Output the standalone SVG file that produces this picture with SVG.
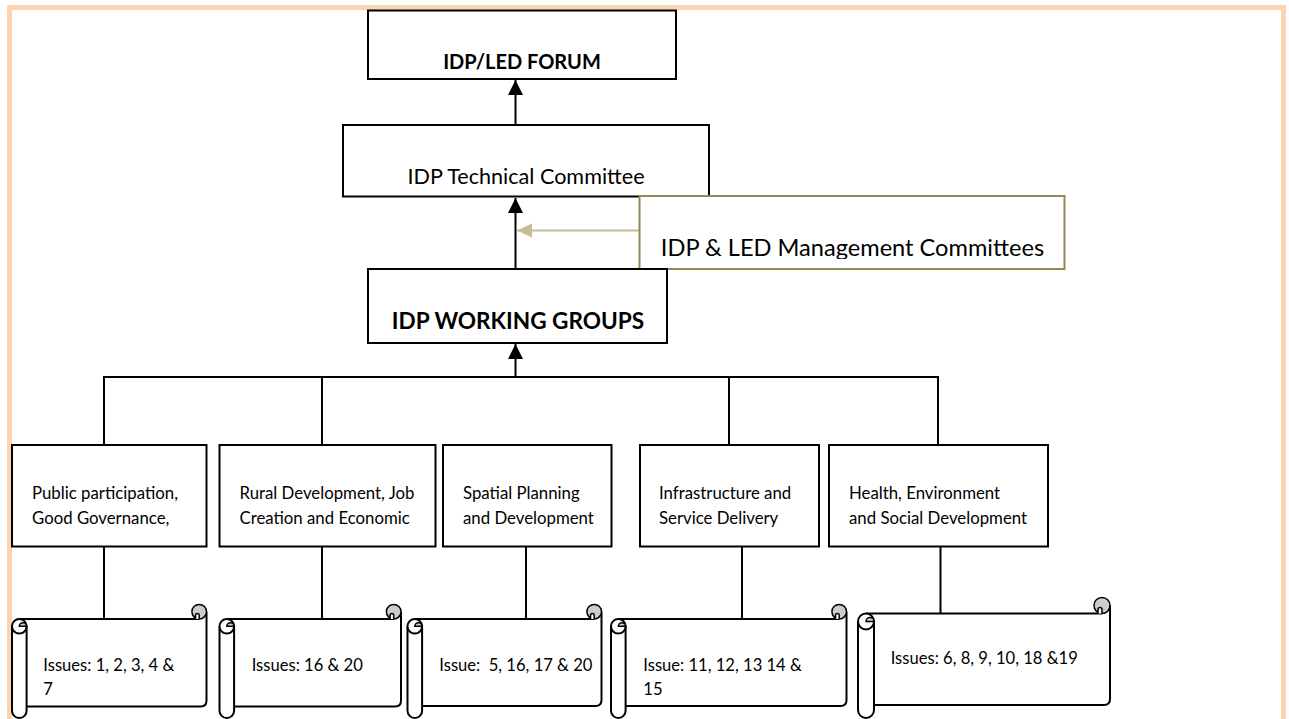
<svg xmlns="http://www.w3.org/2000/svg" width="1289" height="719" viewBox="0 0 1289 719">
<style>
.box{fill:#fff;stroke:#000;stroke-width:2}
.mg{fill:#fff;stroke:#938953;stroke-width:2}
.ln{fill:none;stroke:#000;stroke-width:2}
.tan{fill:none;stroke:#C4BD97;stroke-width:2}
.t{font-family:Lato,"Liberation Sans",sans-serif;fill:#000}
.b{font-weight:bold}
.sc{fill:#fff;stroke:#000;stroke-width:2}
.gr{fill:#CDCDCD;stroke:#000;stroke-width:1.5}
.nf{fill:none;stroke:#000;stroke-width:2}
</style>
<defs>
<marker id="ah" markerUnits="userSpaceOnUse" markerWidth="16" markerHeight="16" viewBox="0 0 16 16" refX="15" refY="8" orient="auto">
<path d="M0,0.5 L15,8 L0,15.5 Z" fill="#000"/>
</marker>
<marker id="aht" markerUnits="userSpaceOnUse" markerWidth="16" markerHeight="16" viewBox="0 0 16 16" refX="15" refY="8" orient="auto">
<path d="M0,1 L15,8 L0,15 Z" fill="#C4BD97"/>
</marker>
<clipPath id="mclip"><rect x="640" y="197" width="424" height="62"/></clipPath>
</defs>
<rect width="1289" height="719" fill="#fff"/>
<rect x="9.5" y="7.5" width="1274" height="800" fill="none" stroke="#FBD4B4" stroke-width="5"/>

<g id="connectors">
<line class="ln" x1="515.5" y1="125" x2="515.5" y2="80" marker-end="url(#ah)"/>
<line class="ln" x1="515.5" y1="269" x2="515.5" y2="198" marker-end="url(#ah)"/>
<line class="tan" x1="639" y1="230.5" x2="517" y2="230.5" marker-end="url(#aht)"/>
<line class="ln" x1="515.5" y1="377" x2="515.5" y2="344" marker-end="url(#ah)"/>
<path class="ln" d="M104,445 V377 H938 V445 M322,377 V445 M729,377 V445"/>
<path class="ln" d="M104,547 V619 M322,547 V619 M526,547 V619 M742,547 V619 M940.5,547 V613.5"/>
</g>

<g id="forum">
<rect class="box" x="368" y="10.5" width="308" height="68.5"/>
<text class="t b" x="522" y="69" font-size="20" text-anchor="middle">IDP/LED FORUM</text>
</g>
<g id="tech">
<rect class="box" x="343" y="125" width="366" height="71.5"/>
<text class="t" x="526" y="184" font-size="21.6" text-anchor="middle">IDP Technical Committee</text>
</g>
<g id="mgmt">
<rect class="mg" x="639.5" y="196" width="425" height="73"/>
<text class="t" x="852.5" y="256" font-size="23.6" text-anchor="middle" clip-path="url(#mclip)">IDP &amp; LED Management Committees</text>
</g>
<g id="wg">
<rect class="box" x="368" y="269" width="299" height="74"/>
<text class="t b" x="518" y="329" font-size="22.6" text-anchor="middle">IDP WORKING GROUPS</text>
</g>

<g id="g1">
<rect class="box" x="12" y="445" width="194.5" height="101.5"/>
<text class="t" font-size="16.8"><tspan x="32" y="499">Public participation,</tspan><tspan x="32" y="524">Good Governance,</tspan></text>
</g>
<g id="g2">
<rect class="box" x="219.5" y="445" width="216" height="101.5"/>
<text class="t" font-size="16.8"><tspan x="239.5" y="499">Rural Development, Job</tspan><tspan x="239.5" y="524">Creation and Economic</tspan></text>
</g>
<g id="g3">
<rect class="box" x="443" y="445" width="168.5" height="101.5"/>
<text class="t" font-size="16.8"><tspan x="463" y="499">Spatial Planning</tspan><tspan x="463" y="524">and Development</tspan></text>
</g>
<g id="g4">
<rect class="box" x="640" y="445" width="179" height="101.5"/>
<text class="t" font-size="16.8"><tspan x="659" y="499">Infrastructure and</tspan><tspan x="659" y="524">Service Delivery</tspan></text>
</g>
<g id="g5">
<rect class="box" x="829" y="445" width="219" height="101.5"/>
<text class="t" font-size="16.8"><tspan x="849" y="499">Health, Environment</tspan><tspan x="849" y="524">and Social Development</tspan></text>
</g>

<g id="s1">
<rect x="19.3" y="619" width="187.2" height="87.5" fill="#fff"/>
<path class="nf" d="M19.3,619 H199.2 M206.5,611.7 V700.5 Q206.5,706.5 200.5,706.5 H26.6"/>
<circle class="gr" cx="199.2" cy="611.7" r="7.3"/>
<path d="M199.2,619 V615.35 A1.8,1.8 0 0 0 195.55,615.35 V619" fill="#fff" stroke="#000" stroke-width="1.5"/>
<path class="sc" d="M12,626.3 V710.7 A7.3,7.3 0 0 0 26.6,710.7 V626.3"/>
<circle class="sc" cx="19.3" cy="626.3" r="7.3"/>
<path class="gr" d="M19.3,626.3 A3.65,3.65 0 0 1 26.6,626.3 Z"/>
<text class="t" font-size="16.6"><tspan x="43.3" y="671">Issues: 1, 2, 3, 4 &amp;</tspan><tspan x="43.3" y="695">7</tspan></text>
</g>
<g id="s2">
<rect x="226.8" y="619" width="174.2" height="87.5" fill="#fff"/>
<path class="nf" d="M226.8,619 H393.7 M401,611.7 V700.5 Q401,706.5 395,706.5 H234.1"/>
<circle class="gr" cx="393.7" cy="611.7" r="7.3"/>
<path d="M393.7,619 V615.35 A1.8,1.8 0 0 0 390.05,615.35 V619" fill="#fff" stroke="#000" stroke-width="1.5"/>
<path class="sc" d="M219.5,626.3 V710.7 A7.3,7.3 0 0 0 234.1,710.7 V626.3"/>
<circle class="sc" cx="226.8" cy="626.3" r="7.3"/>
<path class="gr" d="M226.8,626.3 A3.65,3.65 0 0 1 234.1,626.3 Z"/>
<text class="t" font-size="16.6" x="251.7" y="671">Issues: 16 &amp; 20</text>
</g>
<g id="s3">
<rect x="414.8" y="619" width="186.7" height="87" fill="#fff"/>
<path class="nf" d="M414.8,619 H594.2 M601.5,611.7 V700 Q601.5,706 595.5,706 H422.1"/>
<circle class="gr" cx="594.2" cy="611.7" r="7.3"/>
<path d="M594.2,619 V615.35 A1.8,1.8 0 0 0 590.55,615.35 V619" fill="#fff" stroke="#000" stroke-width="1.5"/>
<path class="sc" d="M407.5,626.3 V710.7 A7.3,7.3 0 0 0 422.1,710.7 V626.3"/>
<circle class="sc" cx="414.8" cy="626.3" r="7.3"/>
<path class="gr" d="M414.8,626.3 A3.65,3.65 0 0 1 422.1,626.3 Z"/>
<text class="t" font-size="16.6" x="439.3" y="671" xml:space="preserve">Issue:  5, 16, 17 &amp; 20</text>
</g>
<g id="s4">
<rect x="618.3" y="619" width="228.2" height="87" fill="#fff"/>
<path class="nf" d="M618.3,619 H839.2 M846.5,611.7 V700 Q846.5,706 840.5,706 H625.6"/>
<circle class="gr" cx="839.2" cy="611.7" r="7.3"/>
<path d="M839.2,619 V615.35 A1.8,1.8 0 0 0 835.55,615.35 V619" fill="#fff" stroke="#000" stroke-width="1.5"/>
<path class="sc" d="M611,626.3 V710.7 A7.3,7.3 0 0 0 625.6,710.7 V626.3"/>
<circle class="sc" cx="618.3" cy="626.3" r="7.3"/>
<path class="gr" d="M618.3,626.3 A3.65,3.65 0 0 1 625.6,626.3 Z"/>
<text class="t" font-size="16.6"><tspan x="643.3" y="671">Issue: 11, 12, 13 14 &amp;</tspan><tspan x="643.3" y="695">15</tspan></text>
</g>
<g id="s5">
<rect x="866" y="613.5" width="244" height="91.5" fill="#fff"/>
<path class="nf" d="M866,613.5 H1102 M1110,605.5 V699 Q1110,705 1104,705 H874"/>
<circle class="gr" cx="1102" cy="605.5" r="8"/>
<path d="M1102,613.5 V609.5 A2,2 0 0 0 1098,609.5 V613.5" fill="#fff" stroke="#000" stroke-width="1.5"/>
<path class="sc" d="M858,621.5 V710 A8,8 0 0 0 874,710 V621.5"/>
<circle class="sc" cx="866" cy="621.5" r="8"/>
<path class="gr" d="M866,621.5 A4,4 0 0 1 874,621.5 Z"/>
<text class="t" font-size="16.6" x="890.7" y="663.5">Issues: 6, 8, 9, 10, 18 &amp;19</text>
</g>
</svg>
